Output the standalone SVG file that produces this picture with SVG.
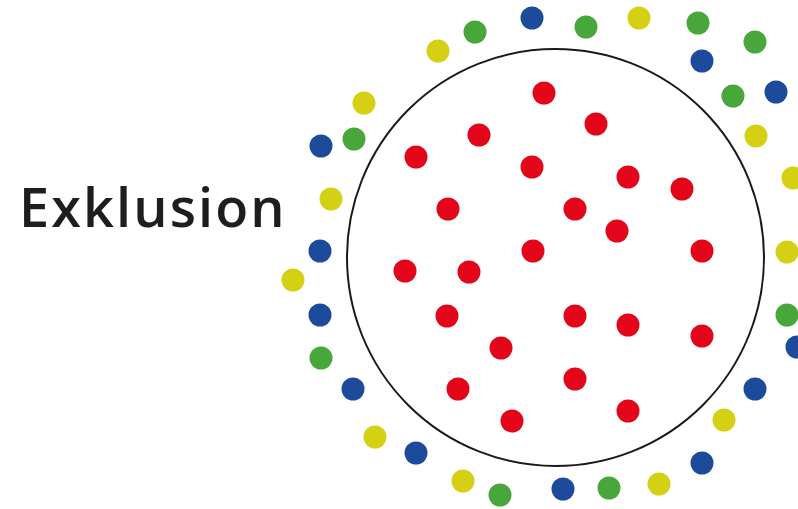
<svg xmlns="http://www.w3.org/2000/svg" width="798" height="509" viewBox="0 0 798 509">
<style>
.r{fill:#e3061a}.b{fill:#1c4b9c}.g{fill:#47a73a}.y{fill:#d6d015}
.lbl{font-family:"Open Sans","Liberation Sans",sans-serif;font-weight:600;font-size:54px;fill:#1e1e1e;letter-spacing:2.1px}
</style>
<rect width="798" height="509" fill="#fff"/>
<g id="label"><text class="lbl" x="19" y="227">Exklusion</text></g>
<g id="boundary"><circle cx="555.5" cy="257.5" r="208.5" fill="none" stroke="#1a1a1a" stroke-width="2"/></g>
<g id="inside">
<circle class="r" cx="544" cy="93" r="11.5"/>
<circle class="r" cx="596" cy="124" r="11.5"/>
<circle class="r" cx="479" cy="135" r="11.5"/>
<circle class="r" cx="416" cy="157" r="11.5"/>
<circle class="r" cx="532" cy="167" r="11.5"/>
<circle class="r" cx="628" cy="177" r="11.5"/>
<circle class="r" cx="682" cy="189" r="11.5"/>
<circle class="r" cx="448" cy="209" r="11.5"/>
<circle class="r" cx="575" cy="209" r="11.5"/>
<circle class="r" cx="617" cy="231" r="11.5"/>
<circle class="r" cx="533" cy="251" r="11.5"/>
<circle class="r" cx="702" cy="251" r="11.5"/>
<circle class="r" cx="405" cy="271" r="11.5"/>
<circle class="r" cx="469" cy="272" r="11.5"/>
<circle class="r" cx="447" cy="316" r="11.5"/>
<circle class="r" cx="575" cy="316" r="11.5"/>
<circle class="r" cx="628" cy="325" r="11.5"/>
<circle class="r" cx="702" cy="336" r="11.5"/>
<circle class="r" cx="501" cy="348" r="11.5"/>
<circle class="r" cx="458" cy="389" r="11.5"/>
<circle class="r" cx="575" cy="379" r="11.5"/>
<circle class="r" cx="512" cy="421" r="11.5"/>
<circle class="r" cx="628" cy="411" r="11.5"/>
</g>
<g id="outside">
<circle class="b" cx="532" cy="18" r="11.5"/>
<circle class="g" cx="586" cy="27" r="11.5"/>
<circle class="y" cx="639" cy="18" r="11.5"/>
<circle class="g" cx="698" cy="23" r="11.5"/>
<circle class="g" cx="755" cy="42" r="11.5"/>
<circle class="b" cx="702" cy="61" r="11.5"/>
<circle class="g" cx="733" cy="96" r="11.5"/>
<circle class="b" cx="776" cy="92" r="11.5"/>
<circle class="y" cx="756" cy="136" r="11.5"/>
<circle class="y" cx="793" cy="178" r="11.5"/>
<circle class="y" cx="787" cy="252" r="11.5"/>
<circle class="g" cx="787" cy="315" r="11.5"/>
<circle class="b" cx="797" cy="347" r="11.5"/>
<circle class="b" cx="755" cy="389" r="11.5"/>
<circle class="y" cx="724" cy="420" r="11.5"/>
<circle class="b" cx="702" cy="463" r="11.5"/>
<circle class="y" cx="659" cy="484" r="11.5"/>
<circle class="g" cx="609" cy="488" r="11.5"/>
<circle class="b" cx="563" cy="489" r="11.5"/>
<circle class="g" cx="500" cy="495" r="11.5"/>
<circle class="y" cx="463" cy="481" r="11.5"/>
<circle class="b" cx="416" cy="453" r="11.5"/>
<circle class="y" cx="375" cy="437" r="11.5"/>
<circle class="b" cx="353" cy="389" r="11.5"/>
<circle class="g" cx="321" cy="358" r="11.5"/>
<circle class="b" cx="320" cy="315" r="11.5"/>
<circle class="y" cx="293" cy="280" r="11.5"/>
<circle class="b" cx="320" cy="251" r="11.5"/>
<circle class="y" cx="331" cy="199" r="11.5"/>
<circle class="b" cx="321" cy="146" r="11.5"/>
<circle class="g" cx="354" cy="139" r="11.5"/>
<circle class="y" cx="364" cy="103" r="11.5"/>
<circle class="y" cx="438" cy="51" r="11.5"/>
<circle class="g" cx="475" cy="32" r="11.5"/>
</g>
</svg>
